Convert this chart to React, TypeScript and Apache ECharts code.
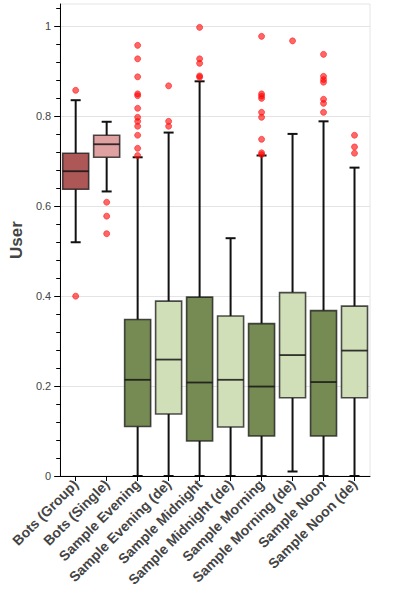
import React, { useEffect, useRef } from "react";
import * as echarts from "echarts";

// Groups shown along the x axis
const categories = [
  "Bots (Group)",
  "Bots (Single)",
  "Sample Evening",
  "Sample Evening (de)",
  "Sample Midnight",
  "Sample Midnight (de)",
  "Sample Morning",
  "Sample Morning (de)",
  "Sample Noon",
  "Sample Noon (de)",
];

// Five-number summaries per group
const lowerWhisker = [0.52, 0.633, 0, 0, 0, 0, 0, 0.01, 0, 0];
const q1 = [0.638, 0.709, 0.11, 0.138, 0.078, 0.109, 0.089, 0.174, 0.089, 0.174];
const median = [0.678, 0.738, 0.214, 0.259, 0.208, 0.214, 0.199, 0.269, 0.209, 0.279];
const q3 = [0.718, 0.758, 0.348, 0.389, 0.398, 0.356, 0.339, 0.408, 0.368, 0.378];
const upperWhisker = [0.836, 0.788, 0.709, 0.764, 0.878, 0.529, 0.713, 0.761, 0.789, 0.686];

// Points beyond the whiskers
const outliers = [
  [0.858, 0.4],
  [0.609, 0.578, 0.539],
  [0.958, 0.928, 0.888, 0.85, 0.846, 0.818, 0.798, 0.789, 0.778, 0.758, 0.729, 0.713],
  [0.868, 0.789, 0.778],
  [0.998, 0.928, 0.918, 0.89, 0.887],
  [],
  [0.978, 0.85, 0.845, 0.84, 0.809, 0.798, 0.749, 0.719, 0.715],
  [0.968],
  [0.938, 0.889, 0.882, 0.876, 0.838, 0.829, 0.809],
  [0.758, 0.732, 0.718],
];

const boxColors = [
  "#ad5757",
  "#e0a1a1",
  "#768a54",
  "#d1dfb8",
  "#768a54",
  "#d1dfb8",
  "#768a54",
  "#d1dfb8",
  "#768a54",
  "#d1dfb8",
];

// Y axis ticks
const yMajorTicks = [0, 0.2, 0.4, 0.6, 0.8, 1];
const yMinorTicks = [
  0.04, 0.08, 0.12, 0.16, 0.24, 0.28, 0.32, 0.36, 0.44, 0.48, 0.52, 0.56,
  0.64, 0.68, 0.72, 0.76, 0.84, 0.88, 0.92, 0.96, 1.04,
];
const yMax = 1.05;

export default function App() {
  const ref = useRef<HTMLDivElement>(null);

  useEffect(() => {
    if (!ref.current) return;
    const chart = echarts.init(ref.current, undefined, { renderer: "svg" });

    const boxData = categories.map((_, i) => [
      i,
      lowerWhisker[i],
      q1[i],
      median[i],
      q3[i],
      upperWhisker[i],
    ]);
    const outlierData: number[][] = [];
    outliers.forEach((vals, i) => vals.forEach((v) => outlierData.push([i, v])));

    const fontFamily = "'Liberation Sans', Arial, sans-serif";

    chart.setOption({
      animation: false,
      grid: {
        left: 53,
        right: 30,
        top: 4,
        bottom: 124,
        show: true,
        borderColor: "#e4e4e4",
        borderWidth: 1,
      },
      xAxis: {
        type: "category",
        data: categories,
        boundaryGap: true,
        z: 5,
        axisLine: { show: true, lineStyle: { color: "#000", width: 1 } },
        axisTick: { show: true, alignWithLabel: true, length: 5, lineStyle: { color: "#000" } },
        axisLabel: {
          interval: 0,
          rotate: 45,
          margin: 6,
          fontSize: 14,
          fontWeight: "bold",
          color: "#444",
          fontFamily,
        },
        splitLine: { show: false },
      },
      yAxis: [
        {
          type: "value",
          min: 0,
          max: yMax,
          interval: 0.2,
          name: "User",
          nameLocation: "middle",
          nameGap: 30,
          nameRotate: 90,
          nameTextStyle: { fontSize: 17, fontWeight: "bold", color: "#444", fontFamily },
          axisLine: { show: true, lineStyle: { color: "#000", width: 1 } },
          axisTick: { show: true, length: 6, customValues: yMajorTicks, lineStyle: { color: "#000" } },
          axisLabel: {
            customValues: yMajorTicks,
            fontSize: 11,
            color: "#444",
            margin: 9,
            fontFamily,
          },
          splitLine: { show: true, lineStyle: { color: "#e4e4e4", width: 1 } },
        },
        {
          type: "value",
          min: 0,
          max: yMax,
          position: "left",
          axisLine: { show: false },
          axisLabel: { show: false },
          splitLine: { show: false },
          axisTick: { show: true, length: 4, customValues: yMinorTicks, lineStyle: { color: "#000" } },
        },
      ],
      series: [
        {
          type: "custom",
          data: boxData,
          encode: { x: 0, y: [1, 2, 3, 4, 5] },
          z: 2,
          renderItem: (params: any, api: any) => {
            const idx = api.value(0);
            const x = api.coord([idx, 0])[0];
            const band = api.size([1, 0])[0];
            const half = band * 0.42;
            const cap = 5;
            const yLow = api.coord([idx, api.value(1)])[1];
            const yQ1 = api.coord([idx, api.value(2)])[1];
            const yMed = api.coord([idx, api.value(3)])[1];
            const yQ3 = api.coord([idx, api.value(4)])[1];
            const yHigh = api.coord([idx, api.value(5)])[1];
            const whisker = { stroke: "#111", lineWidth: 2 };
            return {
              type: "group",
              children: [
                { type: "line", shape: { x1: x, y1: yQ3, x2: x, y2: yHigh }, style: whisker },
                { type: "line", shape: { x1: x, y1: yQ1, x2: x, y2: yLow }, style: whisker },
                { type: "line", shape: { x1: x - cap, y1: yHigh, x2: x + cap, y2: yHigh }, style: whisker },
                { type: "line", shape: { x1: x - cap, y1: yLow, x2: x + cap, y2: yLow }, style: whisker },
                {
                  type: "rect",
                  shape: { x: x - half, y: yQ3, width: half * 2, height: yQ1 - yQ3 },
                  style: {
                    fill: boxColors[params.dataIndex],
                    stroke: "rgba(20,20,20,0.75)",
                    lineWidth: 1.6,
                  },
                },
                {
                  type: "line",
                  shape: { x1: x - half, y1: yMed, x2: x + half, y2: yMed },
                  style: { stroke: "rgba(20,20,20,0.85)", lineWidth: 1.8 },
                },
              ],
            };
          },
        },
        {
          type: "scatter",
          data: outlierData,
          symbol: "circle",
          symbolSize: 6,
          z: 3,
          itemStyle: {
            color: "rgba(255,0,0,0.75)",
            borderColor: "rgba(255,20,20,0.9)",
            borderWidth: 0.8,
          },
        },
      ],
    });

    return () => chart.dispose();
  }, []);

  return (
    <div
      ref={ref}
      style={{ position: "fixed", left: 0, top: 0, width: 400, height: 600, background: "#fff" }}
    />
  );
}
